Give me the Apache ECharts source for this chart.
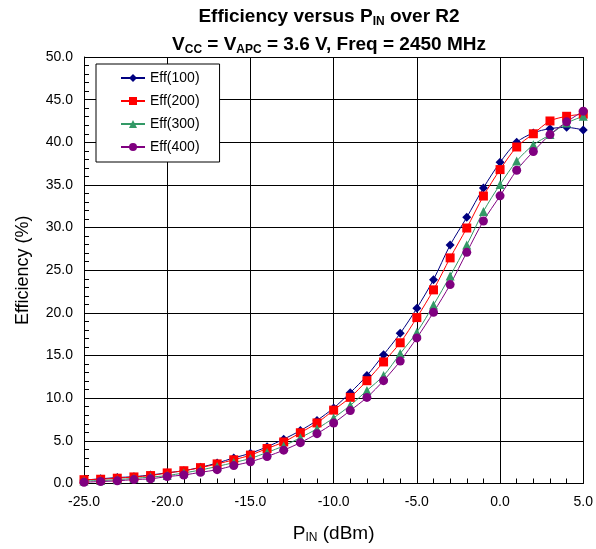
<!DOCTYPE html>
<html>
<head>
<meta charset="utf-8">
<script src="https://cdn.jsdelivr.net/npm/echarts@6/dist/echarts.min.js"></script>
<style>html,body{margin:0;padding:0;background:#fff}#c{width:596px;height:549px}</style>
</head>
<body>
<div id="c"></div>
<script>
const pin = [-25,-24,-23,-22,-21,-20,-19,-18,-17,-16,-15,-14,-13,-12,-11,-10,-9,-8,-7,-6,-5,-4,-3,-2,-1,0,1,2,3,4,5];
const eff100 = [0.4,0.55,0.7,0.8,1.0,1.25,1.5,1.9,2.4,3.0,3.55,4.3,5.2,6.2,7.4,8.85,10.65,12.65,15.1,17.6,20.55,23.9,27.95,31.2,34.65,37.65,40.0,41.1,41.6,41.75,41.45];
const eff200 = [0.45,0.5,0.62,0.77,0.93,1.24,1.5,1.86,2.3,2.78,3.33,4.1,4.87,5.95,7.1,8.6,10.1,12.05,14.25,16.5,19.45,22.7,26.45,29.95,33.7,36.8,39.45,41.0,42.5,43.05,43.3];
const eff300 = [0.3,0.35,0.45,0.6,0.75,0.93,1.24,1.58,2.0,2.45,2.94,3.64,4.41,5.37,6.42,7.69,9.16,10.9,12.65,15.23,17.73,20.92,24.33,27.95,31.9,35.05,37.8,39.7,40.9,42.25,43.05];
const eff400 = [0.15,0.23,0.31,0.46,0.55,0.81,1.0,1.31,1.62,2.1,2.55,3.17,3.91,4.79,5.84,7.08,8.55,10.09,12.06,14.35,17.07,20.07,23.32,27.1,30.78,33.72,36.72,38.92,40.9,42.4,43.65];
const seriesNames = ['Eff(100)','Eff(200)','Eff(300)','Eff(400)'];

const font = 'Arial, "Liberation Sans", sans-serif';
function pairs(ys){ return pin.map((x,i)=>[x, ys[i]]); }
function mk(name, data, color, symbol, size){
  return {
    name, type:'line', data: pairs(data), smooth: 0.3,
    symbol, symbolSize: size,
    lineStyle:{color, width:1}, itemStyle:{color},
    emphasis:{disabled:true}
  };
}
const chart = echarts.init(document.getElementById('c'), null, {renderer:'canvas'});
chart.setOption({
  animation:false,
  backgroundColor:'#fff',
  title:{
    text:'{a|Efficiency versus P}{s|IN}{a| over R2}\n{a|V}{s|CC}{a| = V}{s|APC}{a| = 3.6 V, Freq = 2450 MHz}',
    left: 329, top: 3, textAlign:'center', padding:0,
    textStyle:{
      fontFamily: font, fontWeight:'bold', fontSize:19, color:'#000',
      rich:{
        a:{fontFamily: font, fontWeight:'bold', fontSize:19, color:'#000', lineHeight:28},
        s:{fontFamily: font, fontWeight:'bold', fontSize:12, color:'#000', lineHeight:28, padding:[9,0,0,0]}
      }
    }
  },
  legend:{
    data: seriesNames, orient:'vertical', left:96, top:64,
    backgroundColor:'#fff', borderColor:'#000', borderWidth:1,
    padding:[7,20,8,24], itemWidth:24, itemHeight:10, itemGap:9,
    textStyle:{fontFamily: font, fontSize:14, color:'#000'}
  },
  grid:{left:84, right:10.5, top:57, bottom:61, containLabel:false},
  xAxis:{
    type:'value', min:-25, max:5, interval:5,
    name:'{a|P}{s|IN}{a| (dBm)}', nameLocation:'middle', nameGap:39,
    nameTextStyle:{
      fontFamily: font, fontSize:19, color:'#000',
      rich:{
        a:{fontFamily: font, fontSize:19, color:'#000', lineHeight:22},
        s:{fontFamily: font, fontSize:12, color:'#000', lineHeight:22, padding:[9,0,0,0]}
      }
    },
    axisLine:{show:true, onZero:false, lineStyle:{color:'#000', width:1}},
    axisTick:{show:true, inside:true, length:5, lineStyle:{color:'#000'}},
    minorTick:{show:true, splitNumber:5, length:5, lineStyle:{color:'#000'}},
    splitLine:{show:true, lineStyle:{color:'#000', width:1}},
    axisLabel:{fontFamily: font, fontSize:14, color:'#000', margin:12,
      formatter: v => v.toFixed(1)}
  },
  yAxis:{
    type:'value', min:0, max:50, interval:5,
    name:'Efficiency (%)', nameLocation:'middle', nameGap:52,
    nameTextStyle:{fontFamily: font, fontSize:18, color:'#000'},
    axisLine:{show:true, onZero:false, lineStyle:{color:'#000', width:1}},
    axisTick:{show:true, inside:true, length:5, lineStyle:{color:'#000'}},
    minorTick:{show:true, splitNumber:5, length:5, lineStyle:{color:'#000'}},
    splitLine:{show:true, lineStyle:{color:'#000', width:1}},
    axisLabel:{fontFamily: font, fontSize:14, color:'#000', margin:11,
      formatter: v => v.toFixed(1)}
  },
  series:[
    mk('Eff(100)', eff100, '#000080', 'diamond', 9),
    mk('Eff(200)', eff200, '#FF0000', 'rect', 9),
    mk('Eff(300)', eff300, '#339966', 'triangle', 9),
    mk('Eff(400)', eff400, '#800080', 'circle', 9)
  ]
});
</script>
</body>
</html>
